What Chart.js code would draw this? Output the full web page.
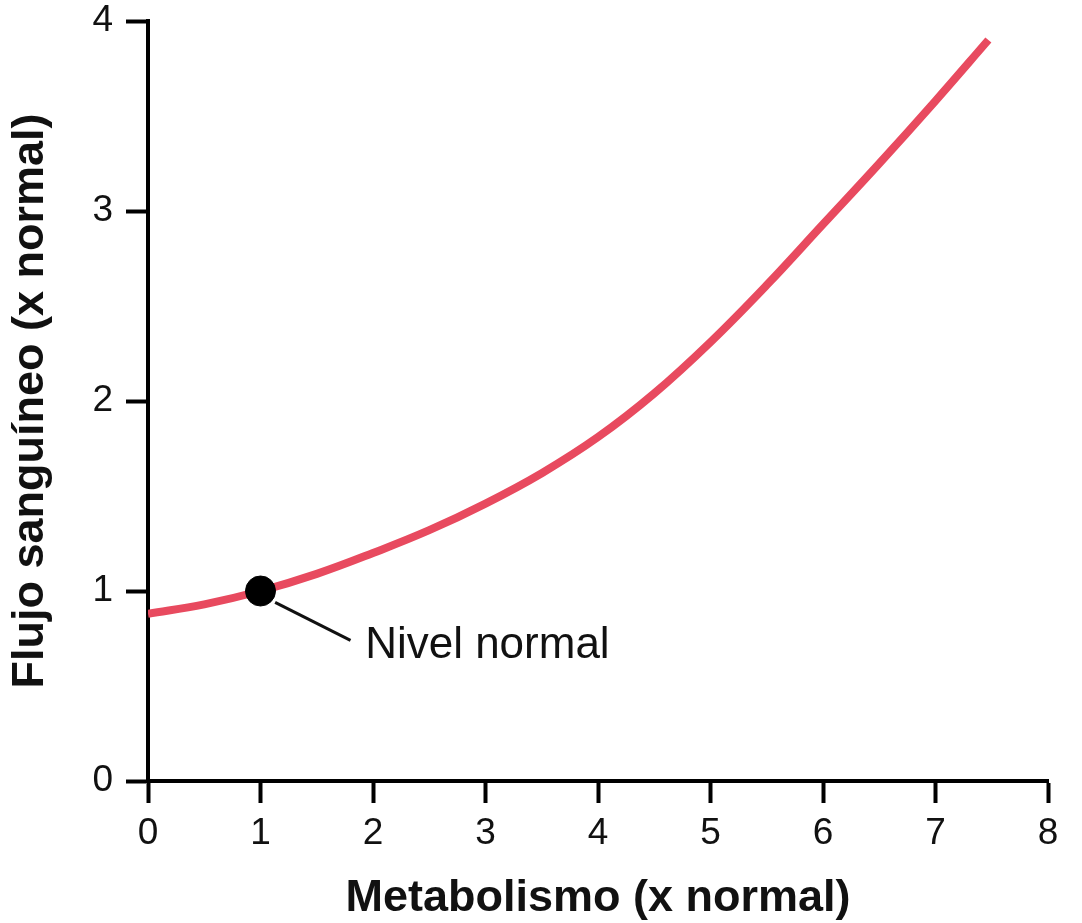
<!DOCTYPE html>
<html>
<head>
<meta charset="utf-8">
<script src="https://cdn.jsdelivr.net/npm/chart.js@4"></script>
<style>
  html, body { margin: 0; padding: 0; background: #fff; }
  #wrap { width: 1082px; height: 923px; }
</style>
</head>
<body>
<div id="wrap"><canvas id="flowChart" width="1082" height="923"></canvas></div>
<script>
const metabolism = [0, 0.5, 1, 1.5, 2, 2.5, 3, 3.5, 4, 4.5, 5, 5.5, 6, 6.5, 7, 7.47];
const bloodFlow = [0.88, 0.93, 1.0, 1.09, 1.2, 1.32, 1.46, 1.62, 1.81, 2.04, 2.31, 2.61, 2.93, 3.25, 3.58, 3.9];
const normalPoint = [1, 1];
const xTicks = [0, 1, 2, 3, 4, 5, 6, 7, 8];
const yTicks = [0, 1, 2, 3, 4];
const noteText = "Nivel normal";
const noteLeader = [[1.13, 0.94], [1.8, 0.74]];
const noteAnchor = [1.93, 0.65];

const FONT = "'Liberation Sans', Arial, sans-serif";

// leader line + "Nivel normal" text
const notePlugin = {
  id: "note",
  afterDatasetsDraw(chart) {
    const ctx = chart.ctx;
    const xs = chart.scales.x, ys = chart.scales.y;
    ctx.save();
    ctx.strokeStyle = "#111";
    ctx.lineWidth = 3;
    ctx.beginPath();
    ctx.moveTo(xs.getPixelForValue(noteLeader[0][0]), ys.getPixelForValue(noteLeader[0][1]));
    ctx.lineTo(xs.getPixelForValue(noteLeader[1][0]), ys.getPixelForValue(noteLeader[1][1]));
    ctx.stroke();
    ctx.fillStyle = "#111";
    ctx.font = "44px " + FONT;
    ctx.textAlign = "left";
    ctx.textBaseline = "alphabetic";
    ctx.fillText(noteText, xs.getPixelForValue(noteAnchor[0]), ys.getPixelForValue(noteAnchor[1]));
    ctx.restore();
  }
};

const ctx = document.getElementById("flowChart").getContext("2d");

new Chart(ctx, {
  type: "line",
  data: {
    datasets: [
      {
        label: "Flujo",
        data: metabolism.map((m, i) => ({ x: m, y: bloodFlow[i] })),
        borderColor: "#e84a5f",
        borderWidth: 8,
        pointRadius: 0,
        tension: 0.4,
        fill: false,
        order: 2
      },
      {
        label: noteText,
        data: [{ x: normalPoint[0], y: normalPoint[1] }],
        showLine: false,
        pointRadius: 15,
        pointBackgroundColor: "#000",
        pointBorderColor: "#000",
        order: 1
      }
    ]
  },
  options: {
    responsive: false,
    animation: false,
    devicePixelRatio: 1,
    layout: { padding: { top: 21, right: 34, left: 0, bottom: 0 } },
    plugins: {
      legend: { display: false },
      tooltip: { enabled: false }
    },
    scales: {
      x: {
        type: "linear",
        min: 0,
        max: 8,
        afterBuildTicks: s => { s.ticks = xTicks.map(v => ({ value: v })); },
        afterFit: s => { s.height = 142; s.paddingLeft = 0; s.paddingRight = 0; },
        border: { color: "#000", width: 4 },
        grid: { drawOnChartArea: false, drawTicks: true, tickLength: 22, color: "#000", tickWidth: 4 },
        ticks: { color: "#111", padding: 9, font: { family: FONT, size: 37 }, maxRotation: 0 },
        title: {
          display: true,
          text: "Metabolismo (x normal)",
          color: "#111",
          font: { family: FONT, size: 45, weight: "bold", lineHeight: 1 },
          padding: { top: 0, bottom: 2 }
        }
      },
      y: {
        min: 0,
        max: 4,
        afterBuildTicks: s => { s.ticks = yTicks.map(v => ({ value: v })); },
        afterFit: s => { s.width = 148; s.paddingTop = 0; s.paddingBottom = 0; },
        border: { color: "#000", width: 4 },
        grid: { drawOnChartArea: false, drawTicks: true, tickLength: 22, color: "#000", tickWidth: 4 },
        ticks: { color: "#111", padding: 13, font: { family: FONT, size: 37 } },
        title: {
          display: true,
          text: "Flujo sanguíneo (x normal)",
          color: "#111",
          font: { family: FONT, size: 45, weight: "bold", lineHeight: 1 },
          padding: { top: 8, bottom: 0 }
        }
      }
    }
  },
  plugins: [notePlugin]
});
</script>
</body>
</html>
